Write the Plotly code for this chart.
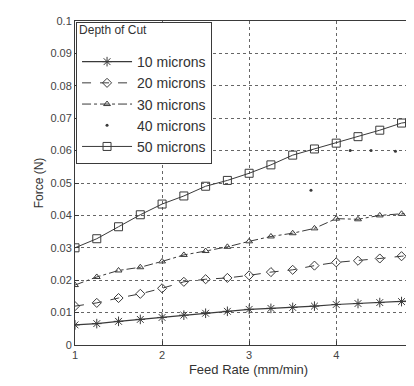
import plotly.graph_objects as go

feed_rate = [1.0, 1.25, 1.5, 1.75, 2.0, 2.25, 2.5, 2.75, 3.0, 3.25, 3.5, 3.75, 4.0, 4.25, 4.5, 4.75, 5.0]

force_10 = [0.0062, 0.0066, 0.0073, 0.0079, 0.0085, 0.0092, 0.0098, 0.0104, 0.0110,
            0.0113, 0.0116, 0.0120, 0.0125, 0.0128, 0.0131, 0.0134, 0.0138]
force_20 = [0.0120, 0.0130, 0.0145, 0.0158, 0.0175, 0.0195, 0.0203, 0.0207, 0.0215,
            0.0225, 0.0232, 0.0245, 0.0255, 0.0260, 0.0267, 0.0274, 0.0280]
force_30 = [0.0185, 0.0210, 0.0230, 0.0240, 0.0258, 0.0278, 0.0290, 0.0303, 0.0320,
            0.0335, 0.0345, 0.0360, 0.0390, 0.0388, 0.0400, 0.0405, 0.0410]
feed_rate_40 = [3.71, 4.16, 4.40, 4.68]
force_40 = [0.0478, 0.0600, 0.0600, 0.0598]
force_50 = [0.0300, 0.0328, 0.0365, 0.0402, 0.0435, 0.0460, 0.0490, 0.0508, 0.0530,
            0.0556, 0.0586, 0.0605, 0.0623, 0.0643, 0.0663, 0.0685, 0.0695]

series_names = ["10 microns", "20 microns", "30 microns", "40 microns", "50 microns"]
y_ticks = [0, 0.01, 0.02, 0.03, 0.04, 0.05, 0.06, 0.07, 0.08, 0.09, 0.1]
y_tick_labels = ["0", "0.01", "0.02", "0.03", "0.04", "0.05", "0.06", "0.07", "0.08", "0.09", "0.1"]
x_ticks = [1, 2, 3, 4, 5]

INK = "#3a3a3a"
FONT = "Liberation Sans, Arial, sans-serif"

fig = go.Figure()
fig.add_trace(go.Scatter(x=feed_rate, y=force_10, name=series_names[0], mode="lines+markers",
                         line=dict(color=INK, width=1.2),
                         marker=dict(symbol="asterisk-open", size=8, color=INK, line=dict(color=INK, width=1))))
fig.add_trace(go.Scatter(x=feed_rate, y=force_20, name=series_names[1], mode="lines+markers",
                         line=dict(color=INK, width=1, dash="dash"),
                         marker=dict(symbol="diamond-open", size=7, color=INK, line=dict(color=INK, width=1))))
fig.add_trace(go.Scatter(x=feed_rate, y=force_30, name=series_names[2], mode="lines+markers",
                         line=dict(color=INK, width=1, dash="dashdot"),
                         marker=dict(symbol="triangle-up-open", size=6, color=INK, line=dict(color=INK, width=1))))
fig.add_trace(go.Scatter(x=feed_rate_40, y=force_40, name=series_names[3], mode="markers",
                         marker=dict(symbol="circle", size=3, color=INK)))
fig.add_trace(go.Scatter(x=feed_rate, y=force_50, name=series_names[4], mode="lines+markers",
                         line=dict(color=INK, width=1),
                         marker=dict(symbol="square-open", size=8, color=INK, line=dict(color=INK, width=1))))

axis_common = dict(showline=True, linecolor=INK, linewidth=1, mirror=True,
                   ticks="inside", ticklen=4, tickcolor=INK,
                   showgrid=True, gridcolor="#666", griddash="dot", gridwidth=1,
                   zeroline=False, tickfont=dict(family=FONT, size=11, color="#444"))

fig.update_xaxes(range=[1, 4.985], tickvals=x_ticks, **axis_common,
                 title=dict(text="Feed Rate (mm/min)", font=dict(family=FONT, size=13, color="#333"), standoff=4))
fig.update_yaxes(range=[0, 0.1], tickvals=y_ticks, ticktext=y_tick_labels, **axis_common,
                 title=dict(text="Force (N)", font=dict(family=FONT, size=12, color="#333"), standoff=4))

fig.update_layout(
    width=414, height=386,
    margin=dict(l=67, r=0, t=13, b=49),
    paper_bgcolor="white", plot_bgcolor="white",
    font=dict(family=FONT, size=11, color="#333"),
    legend=dict(x=0.003, y=0.998, xanchor="left", yanchor="top",
                bgcolor="white", bordercolor=INK, borderwidth=1,
                title=dict(text="<span style='font-size:12px'>Depth of Cut</span><br> ",
                           font=dict(family=FONT, size=9, color="#333")),
                font=dict(family=FONT, size=14, color="#333"),
                itemwidth=50, tracegroupgap=0),
)

fig.write_html("out.html")
